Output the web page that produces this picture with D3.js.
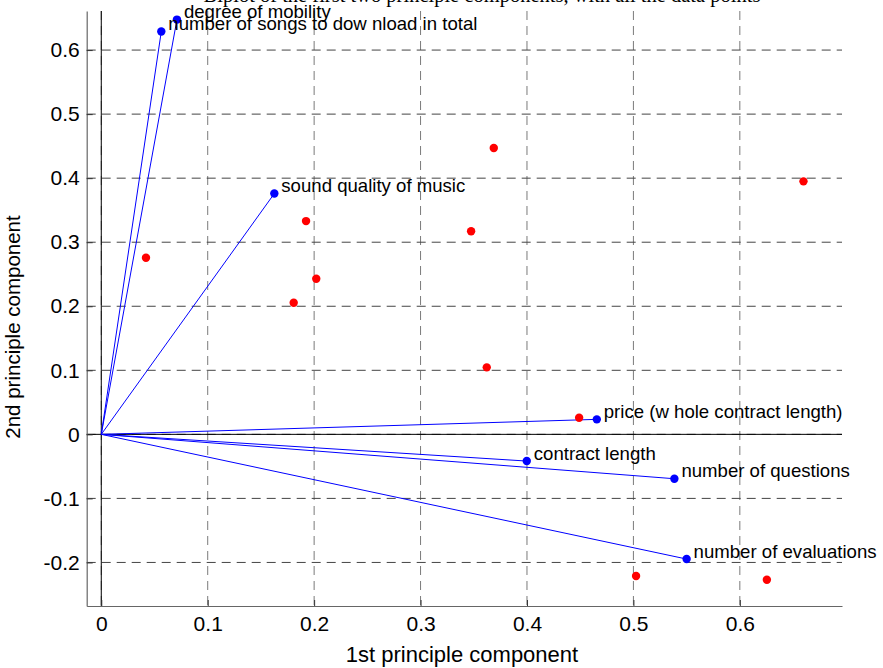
<!DOCTYPE html>
<html>
<head>
<meta charset="utf-8">
<script src="https://cdn.jsdelivr.net/npm/d3@7"></script>
<style>
  body { margin: 0; background: #fff; }
  svg { display: block; font-family: "Liberation Sans", Arial, Helvetica, sans-serif; }
</style>
</head>
<body>
<svg id="chart" width="883" height="668"></svg>
<script>
// variable loadings (blue vectors)
const varNames = [
  "degree of mobility",
  "number of songs to dow nload in total",
  "sound quality of music",
  "price (w hole contract length)",
  "contract length",
  "number of questions",
  "number of evaluations"
];
const varPC1 = [0.0711, 0.0564, 0.1626, 0.4656, 0.3998, 0.5385, 0.5500];
const varPC2 = [0.6476, 0.6290, 0.3760, 0.0234, -0.0417, -0.0693, -0.1947];

// observation scores (red points)
const obsPC1 = [0.042, 0.3688, 0.6598, 0.1924, 0.3475, 0.202, 0.1808, 0.3622, 0.449, 0.5025, 0.6254];
const obsPC2 = [0.2757, 0.447, 0.395, 0.333, 0.317, 0.243, 0.2055, 0.1046, 0.0259, -0.2212, -0.227];

const xTicks = [0, 0.1, 0.2, 0.3, 0.4, 0.5, 0.6];
const yTicks = [-0.2, -0.1, 0, 0.1, 0.2, 0.3, 0.4, 0.5, 0.6];

const titleText = "Biplot of the first two principle components, with all the data points";
const xLabel = "1st principle component";
const yLabel = "2nd principle component";

const plotL = 86.7, plotR = 842, plotT = 11, plotB = 606;

const svg = d3.select("#chart");

const x = d3.scaleLinear().domain([-0.0137, 0.696]).range([plotL, plotR]);
const y = d3.scaleLinear().domain([-0.268, 0.661]).range([plotB, plotT]);

// grid
const grid = svg.append("g");
grid.selectAll("line.vg")
  .data(xTicks)
  .join("line")
  .attr("class", "vg")
  .attr("x1", d => x(d)).attr("x2", d => x(d))
  .attr("y1", plotT).attr("y2", plotB)
  .attr("stroke", "#7a7a7a")
  .attr("stroke-dasharray", "9,6");
grid.selectAll("line.hg")
  .data(yTicks)
  .join("line")
  .attr("class", "hg")
  .attr("x1", plotL).attr("x2", plotR)
  .attr("y1", d => y(d)).attr("y2", d => y(d))
  .attr("stroke", "#444")
  .attr("stroke-dasharray", "9,6");

// zero lines
svg.append("line")
  .attr("x1", plotL).attr("x2", plotR)
  .attr("y1", y(0)).attr("y2", y(0))
  .attr("stroke", "#000");
svg.append("line")
  .attr("x1", x(0)).attr("x2", x(0))
  .attr("y1", plotT).attr("y2", plotB)
  .attr("stroke", "#000");

// axes
const fmt = d => String(+d.toFixed(1));   // plain hyphen minus like the original
const xAxis = d3.axisBottom(x).tickValues(xTicks).tickSizeInner(-6).tickSizeOuter(0).tickFormat(fmt);
const yAxis = d3.axisLeft(y).tickValues(yTicks).tickSizeInner(-6).tickSizeOuter(0).tickFormat(fmt);

const gx = svg.append("g").attr("transform", `translate(0,${plotB})`).call(xAxis);
const gy = svg.append("g").attr("transform", `translate(${plotL},0)`).call(yAxis);

[gx, gy].forEach(g => {
  g.select(".domain").attr("stroke", "#666").attr("stroke-width", 1.2);
  g.selectAll(".tick line").attr("stroke", "#333");
  g.selectAll(".tick text")
    .attr("fill", "#000")
    .style("font-size", "21px")
    .style("font-family", "Liberation Sans, Arial, sans-serif");
});
gx.selectAll(".tick text").attr("y", 10).attr("dy", "0.71em");
gy.selectAll(".tick text").attr("x", -7);

// vectors
const vecs = varNames.map((n, i) => ({ name: n, px: varPC1[i], py: varPC2[i] }));
svg.append("g")
  .selectAll("line")
  .data(vecs)
  .join("line")
  .attr("x1", x(0)).attr("y1", y(0))
  .attr("x2", d => x(d.px)).attr("y2", d => y(d.py))
  .attr("stroke", "#0000ff")
  .attr("stroke-width", 1);

// observations
const obs = obsPC1.map((v, i) => ({ px: v, py: obsPC2[i] }));
svg.append("g")
  .selectAll("circle")
  .data(obs)
  .join("circle")
  .attr("cx", d => x(d.px)).attr("cy", d => y(d.py))
  .attr("r", 4.2)
  .attr("fill", "#ff0000");

svg.append("g")
  .selectAll("circle")
  .data(vecs)
  .join("circle")
  .attr("cx", d => x(d.px)).attr("cy", d => y(d.py))
  .attr("r", 4.2)
  .attr("fill", "#0000ff");

svg.append("g")
  .selectAll("text")
  .data(vecs)
  .join("text")
  .attr("x", d => x(d.px) + 7)
  .attr("y", d => y(d.py) - 8)
  .attr("dominant-baseline", "central")
  .attr("font-size", "18.6px")
  .attr("fill", "#000")
  .text(d => d.name);

// title (mostly cut off at the top, as in the original figure)
svg.append("text")
  .attr("x", 482)
  .attr("y", 2)
  .attr("text-anchor", "middle")
  .style("font-family", "Liberation Serif, Times New Roman, serif")
  .style("font-size", "20.5px")
  .text(titleText);

// axis labels
svg.append("text")
  .attr("x", 462)
  .attr("y", 662)
  .attr("text-anchor", "middle")
  .attr("font-size", "22px")
  .text(xLabel);

svg.append("text")
  .attr("transform", "translate(20,327) rotate(-90)")
  .attr("text-anchor", "middle")
  .attr("font-size", "20.5px")
  .text(yLabel);
</script>
</body>
</html>
